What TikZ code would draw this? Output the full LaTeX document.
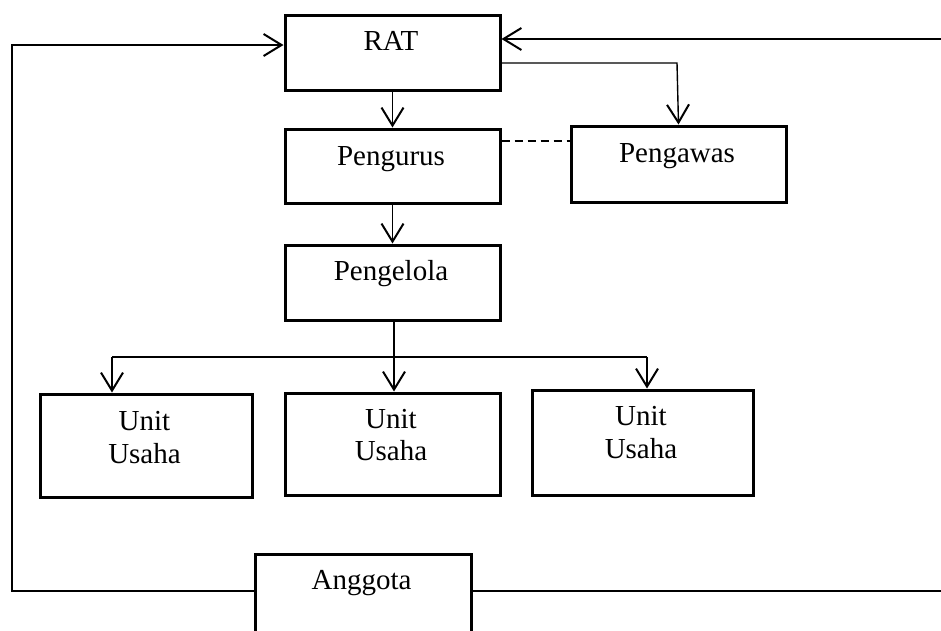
\documentclass[tikz,border=0pt]{standalone}
\usepackage{fontspec}
\setmainfont{Liberation Serif}
\usetikzlibrary{arrows.meta}
\begin{document}
\begin{tikzpicture}[x=1pt,y=-1pt,
  box/.style={draw,line width=3pt,rectangle,anchor=north west,inner sep=0pt},
  lbl/.style={anchor=base,inner sep=0pt,font=\fontsize{29}{33}\selectfont},
  conn/.style={line width=1.4pt},
  arr/.style={conn,-{Straight Barb[length=18pt,width=22pt,line width=2pt]}},
  dsh/.style={conn,dash pattern=on 8pt off 5pt}]
\useasboundingbox (0,0) rectangle (941,630);
\clip (0,0) rectangle (941,630);
\fill[white] (0,0) rectangle (941,630);
% boxes
\node[box,minimum width=215pt,minimum height=75pt] (rat) at (283.5,13.5) {};
\node[box,minimum width=215pt,minimum height=74pt] (pengurus) at (283.5,127.5) {};
\node[box,minimum width=215pt,minimum height=76pt] (pengawas) at (569.5,124.5) {};
\node[box,minimum width=215pt,minimum height=75pt] (pengelola) at (283.5,243.5) {};
\node[box,minimum width=212pt,minimum height=103pt] (unit1) at (38.5,392.5) {};
\node[box,minimum width=215pt,minimum height=102pt] (unit2) at (283.5,391.5) {};
\node[box,minimum width=221pt,minimum height=105pt] (unit3) at (530.5,388.5) {};
\node[box,minimum width=216pt,minimum height=110pt] (anggota) at (253.5,552.5) {};
% texts
\node[lbl] (tRat) at (391,50) {RAT};
\node[lbl] (tPengurus) at (391,165) {Pengurus};
\node[lbl] (tPengawas) at (677,162) {Pengawas};
\node[lbl] (tPengelola) at (391,280) {Pengelola};
\node[lbl] (tU1a) at (144.5,430) {Unit};
\node[lbl] (tU1b) at (144.5,463) {Usaha};
\node[lbl] (tU2a) at (391,428) {Unit};
\node[lbl] (tU2b) at (391,460) {Usaha};
\node[lbl] (tU3a) at (641,425) {Unit};
\node[lbl] (tU3b) at (641,458) {Usaha};
\node[lbl] (tAnggota) at (361.5,589) {Anggota};
% feedback loops
\coordinate (L1) at (12,591);
\coordinate (L2) at (12,45);
\draw[arr] (L1 -| anggota.west) -- (L1) -- (L2) -- (L2 -| rat.west);
\coordinate (R1) at (945,591);
\coordinate (R2) at (945,39);
\draw[conn] (R1 -| anggota.east) -- (R1);
\draw[arr] (R2) -- (R2 -| rat.east);
% top part
\draw[arr] (rat.south) -- (pengurus.north);
\coordinate (P1) at (677,63);
\draw[arr] (P1 -| rat.east) -- (P1) -- (pengawas.north);
\coordinate (D) at (0,141);
\draw[dsh] (D -| pengurus.east) -- (D -| pengawas.west);
\draw[arr] (pengurus.south) -- (pengelola.north);
% branches
\coordinate (J) at (394,357);
\coordinate (H1) at (112,357);
\coordinate (H3) at (647,357);
\draw[conn] (pengelola.south -| J) -- (J);
\draw[conn] (H1) -- (H3);
\draw[arr] (H1) -- (H1 |- unit1.north);
\draw[arr] (J) -- (J |- unit2.north);
\draw[arr] (H3) -- (H3 |- unit3.north);
\end{tikzpicture}
\end{document}
